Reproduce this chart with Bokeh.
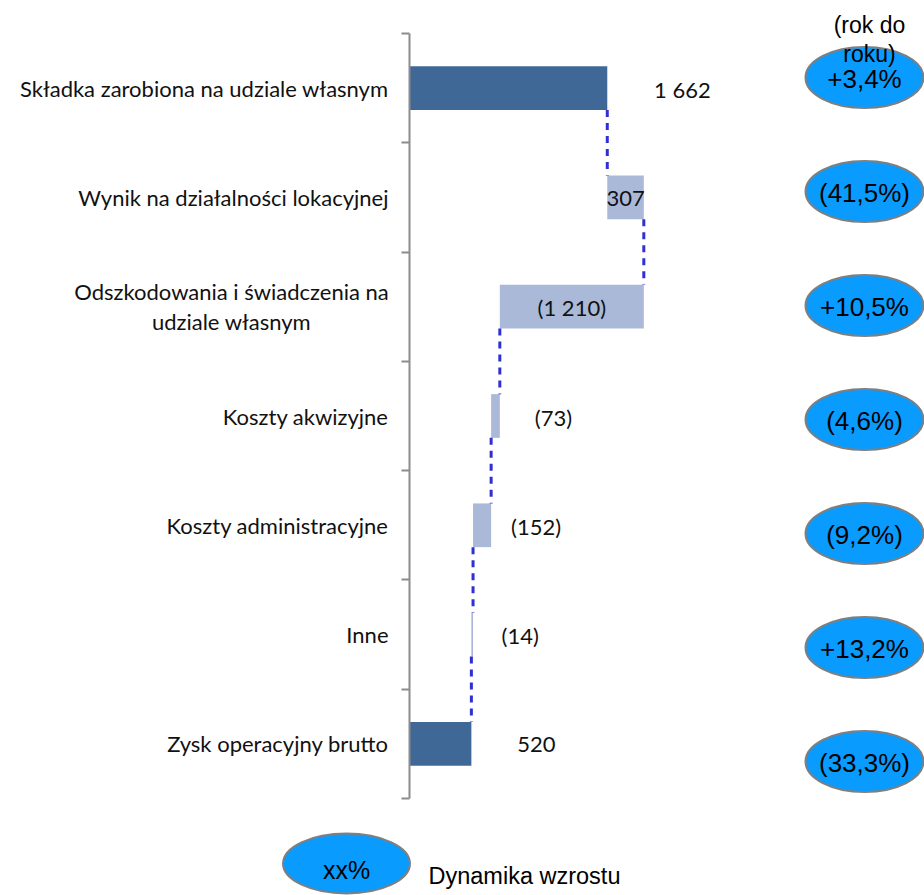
from bokeh.plotting import figure
from bokeh.models import Range1d, FixedTicker, ColumnDataSource
from bokeh.embed import file_html
from bokeh.resources import INLINE
from bokeh.core.properties import value

# ---------------- data ----------------
categories = [
    "Składka zarobiona na udziale własnym",
    "Wynik na działalności lokacyjnej",
    "Odszkodowania i świadczenia na\nudziale własnym",
    "Koszty akwizyjne",
    "Koszty administracyjne",
    "Inne",
    "Zysk operacyjny brutto",
]
amounts = [1662, 307, -1210, -73, -152, -14, 520]
is_total = [True, False, False, False, False, False, True]
value_labels = ["1 662", "307", "(1 210)", "(73)", "(152)", "(14)", "520"]
growth_labels = ["+3,4%", "(41,5%)", "+10,5%", "(4,6%)", "(9,2%)", "+13,2%", "(33,3%)"]
growth_header = ["(rok do", "roku)"]
legend_symbol = "xx%"
legend_text = "Dynamika wzrostu"

# ---------------- styles / layout ----------------
W, H = 924, 895
FL = 8                    # frame left (px)
AX_X = 409                # page px of the value axis (x = 0)
PX_X = 0.119              # px per unit
TOP_PX, BOT_PX = 33, 798  # category axis extent (px)
DARK, LIGHT = "#3F6896", "#A9B9D7"
ELL_FILL, ELL_LINE = "#0A9BFF", "#7F7F7F"
CAT_FONT = "Lato"
ARIAL = "Liberation Sans"
CAT_SIZE = "22px"

n = len(categories)
ppu_y = (BOT_PX - TOP_PX) / n


def px_x(px):
    return (px - AX_X) / PX_X


def px_y(py):
    return n - (py - TOP_PX) / ppu_y


# waterfall geometry
lefts, rights, ends, colors = [], [], [], []
running = 0
for a, tot in zip(amounts, is_total):
    if tot:
        s, e = 0, a
    else:
        s, e = running, running + a
    running = e
    ends.append(e)
    lefts.append(min(s, e))
    rights.append(max(s, e))
    colors.append(DARK if tot else LIGHT)
ys = [n - i - 0.5 for i in range(n)]
BAR_H = 0.4

p = figure(width=W, height=H, x_range=Range1d(px_x(FL), px_x(W)),
           y_range=Range1d(px_y(H), px_y(0)),
           x_axis_location=None, y_axis_location="left", toolbar_location=None,
           output_backend="svg", min_border_left=FL, min_border_right=0,
           min_border_top=0, min_border_bottom=0, outline_line_color=None)
p.xgrid.visible = False
p.ygrid.visible = False

ax = p.yaxis[0]
ax.fixed_location = 0
ax.ticker = FixedTicker(ticks=list(range(n + 1)))
ax.bounds = (0, n)
ax.major_label_overrides = {i: "" for i in range(n + 1)}
ax.major_label_standoff = 0
ax.axis_line_color = "#8C8C8C"
ax.axis_line_width = 2
ax.major_tick_line_color = "#8C8C8C"
ax.major_tick_line_width = 2
ax.major_tick_out = 8
ax.major_tick_in = 0
ax.minor_tick_line_color = None

src = ColumnDataSource(dict(y=ys, left=lefts, right=rights, color=colors,
                            mid=[(l + r) / 2 for l, r in zip(lefts, rights)],
                            lab=value_labels,
                            xoff=[174, 0, 0, 58, 54, 48, 96]))
p.hbar(y="y", left="left", right="right", height=BAR_H, fill_color="color",
       line_color=None, source=src)

# connectors
x0s = ends[:-1]
y0s = [ys[i] - BAR_H / 2 for i in range(n - 1)]
y1s = [ys[i + 1] + BAR_H / 2 for i in range(n - 1)]
p.segment(x0=x0s, y0=y0s, x1=x0s, y1=y1s, line_color="#2F2FD2", line_width=3,
          line_dash="7 6")

# value labels
p.text(x="mid", y="y", text="lab", x_offset="xoff", y_offset=1, source=src,
       text_align="center", text_baseline="middle", text_font=value(CAT_FONT),
       text_font_size=CAT_SIZE, text_color="#111111")

# category labels
single_y = [yc for yc, c in zip(ys, categories) if "\n" not in c]
single_t = [c for c in categories if "\n" not in c]
p.text(x=[0] * len(single_t), y=single_y, text=single_t, x_offset=-21, y_offset=0,
       text_align="right", text_baseline="middle", text_font=value(CAT_FONT),
       text_font_size=CAT_SIZE, text_color="#111111")
for yc, c in zip(ys, categories):
    if "\n" in c:
        lines = c.split("\n")
        k = len(lines)
        p.text(x=[0] * k, y=[yc] * k, text=lines, x_offset=-178,
               y_offset=[-(k - 1) * 15 + j * 30 for j in range(k)],
               text_align="center", text_baseline="middle",
               text_font=value(CAT_FONT), text_font_size=CAT_SIZE,
               text_color="#111111")

# growth ellipses
ell_x = [px_x(864)] * n
ell_y = [px_y(77 + i * 114) for i in range(n)]
p.ellipse(x=ell_x, y=ell_y, width=118, height=61, width_units="screen",
          height_units="screen", fill_color=ELL_FILL, line_color=ELL_LINE,
          line_width=2)
p.text(x=ell_x, y=ell_y, text=growth_labels, text_align="center",
       text_baseline="middle", text_font=value(ARIAL), text_font_size="26px",
       text_color="black", y_offset=1)
p.text(x=[px_x(869)] * 2, y=[px_y(24), px_y(53)], text=growth_header,
       text_align="center", text_baseline="middle",
       text_font=value(ARIAL), text_font_size="23px", text_color="black")

# legend
p.ellipse(x=[px_x(346)], y=[px_y(863)], width=127, height=60, width_units="screen",
          height_units="screen", fill_color=ELL_FILL, line_color=ELL_LINE,
          line_width=2)
p.text(x=[px_x(346)], y=[px_y(869)], text=[legend_symbol], text_align="center",
       text_baseline="middle", text_font=value(ARIAL), text_font_size="25px",
       text_color="black")
p.text(x=[px_x(428)], y=[px_y(875)], text=[legend_text], text_align="left",
       text_baseline="middle", text_font=value(ARIAL), text_font_size="23.5px",
       text_color="black")

open("out.html", "w").write(file_html(p, INLINE))
